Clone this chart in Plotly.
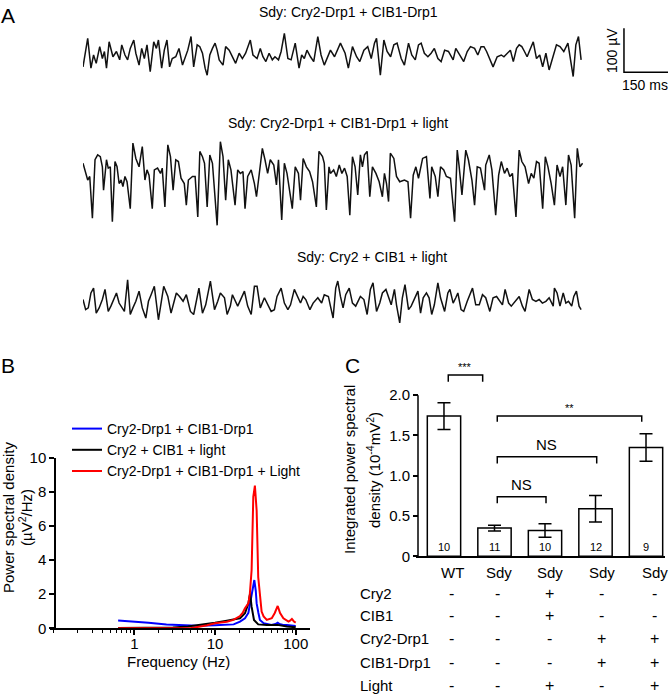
import plotly.graph_objects as go

W, H = 671, 696
FONT = "Arial, Liberation Sans, sans-serif"


def px(x):
    return x / W


def py(y):
    return 1 - y / H


# ---------------- Panel A: field-potential traces (time in ms, amplitude in µV) ----------------
trace1_t = [0, 16, 27, 36, 45, 57, 66, 73, 80, 89, 102, 114, 125, 132, 143, 152, 161, 173, 180, 191,
            200, 209, 218, 229, 241, 250, 257, 268, 277, 286, 295, 304, 316, 327, 339, 348, 357, 368, 377, 389,
            398, 407, 416, 423, 432, 441, 450, 457, 464, 477, 486, 498, 509, 520, 532, 543, 554, 570, 579, 593,
            604, 613, 623, 634, 645, 654, 666, 675, 686, 698, 709, 723, 736, 745, 754, 763, 775, 786, 800, 811,
            822, 832,
            843, 857, 868, 877, 893, 904, 918, 932, 943, 957, 970, 982, 993, 1000, 1013, 1025, 1036, 1048, 1059, 1070,
            1084, 1095, 1109, 1120, 1132, 1143, 1152, 1163, 1175, 1186, 1197, 1209, 1220, 1232, 1245, 1261, 1270, 1284,
            1297, 1309, 1320, 1334, 1345, 1356, 1366, 1375, 1386, 1397, 1411, 1425, 1434, 1445, 1456, 1466, 1477, 1486,
            1495, 1504, 1513, 1522, 1534, 1545, 1556, 1566, 1577, 1588, 1600, 1613, 1625, 1638, 1652, 1661, 1670, 1679,
            1688, 1697]
trace1_uv = [-27, 38, -30, 0, -19, 19, -8, 8, -30, 30, -4, 8, -11, 23, 0, -11, 15, 34, 4, -23,
             15, -8, 23, -38, 30, 15, 34, -30, 11, 34, -27, -8, -4, 15, -23, -4, 11, 42, -27, 23,
             19, 4, -30, -46, 0, 15, 27, 11, -11, -23, 19, 11, -4, -19, 4, -8, 4, 34, 0, -8,
             15, -4, -15, 4, -11, -4, -11, 8, 49, -8, -11, 27, -30, 0, -8, 11, -4, -15, 42, 0,
             -23, -8,
             11, -4, 15, 27, 4, -30, 19, -4, -15, 11, 19, -8, 27, 38, -46, 34, 8, -4, 23, 27,
             -8, -23, 27, 0, -11, 23, 27, 4, -4, 4, 15, -8, -15, 11, 8, -11, 15, 0, -15, 8,
             19, 15, 0, 19, 19, 8, -8, -27, -4, 0, -4, 4, 11, -15, 15, 23, 19, 8, -4, 11,
             30, -8, 0, -27, 4, -34, -4, 23, 19, 8, 27, -8, -49, 23, 42, -11]

trace2_t = [0, 7, 16, 23, 32, 41, 50, 59, 66, 70, 80, 86, 93, 100, 109, 116, 123, 130, 136, 143,
            150, 161, 170, 180, 191, 202, 211, 218, 225, 236, 243, 254, 264, 270, 279, 289, 298, 307, 316, 325,
            334, 345, 352, 359, 373, 382, 391, 398, 407, 414, 423, 432, 441, 457, 468, 477, 486, 495, 504, 518,
            527, 536, 545, 552, 561, 573, 584, 591, 600, 611, 620, 629, 638, 650, 659, 666, 677, 686, 695, 713,
            723, 734, 741, 750, 761, 772, 782, 795, 804, 816, 822, 829, 838,
            843, 854, 863, 873, 882, 891, 900, 909, 918, 927, 936, 945, 952, 959, 968, 977, 986, 998, 1009, 1020,
            1027, 1034, 1041, 1047, 1059, 1068, 1079, 1095, 1107, 1116, 1125, 1134, 1143, 1157, 1170, 1182, 1188, 1200,
            1209, 1218, 1229, 1238, 1252, 1266, 1275, 1281, 1291, 1304, 1313, 1325, 1334, 1343, 1354, 1368, 1372, 1384,
            1393, 1406, 1416, 1425, 1436, 1445, 1454, 1463, 1475, 1486, 1495, 1506, 1518, 1527, 1536, 1545, 1554, 1566,
            1575, 1584, 1595, 1606, 1615, 1625, 1634, 1645, 1654, 1663, 1675, 1684, 1693, 1702]
trace2_uv = [38, 19, 0, 8, -87, 46, 57, 53, 30, -23, 46, 27, 30, -95, 42, 30, -8, 0, -15, 8,
             -4, -65, 84, 49, 30, 76, 0, 23, 11, -65, 23, 27, 15, 27, -61, 80, 53, -23, 46, 42,
             4, -8, -57, 0, 8, 8, -84, 65, 53, 38, -61, 57, 38, -103, 87, 53, -46, 46, 23, -57,
             23, 15, 19, -65, 8, 23, -8, -38, 11, 72, 46, 15, 46, 34, -11, 46, -91, 38, 15, -65,
             30, 15, -46, 49, 30, 19, -4, -61, 65, 53, 38, -68, 30,
             15, 23, 8, 34, 15, 27, 8, -80, 53, 30, -34, 57, 30, 57, 65, -38, 30, 15, -4, -38,
             15, -8, -49, 61, 49, 8, -4, 0, -4, -87, 11, 30, 4, 49, 53, -42, 30, 8, -38, 30,
             23, 8, 4, -95, 68, 34, -34, 68, 46, 0, -57, 30, 27, -23, 34, 57, 23, -80, 11, 42,
             15, 27, 8, 15, -84, 68, 42, 30, -8, 15, 4, 42, 38, -65, 53, 30, -8, -57, 34, 8,
             30, -57, 57, 34, -87, 72, 30, 38]

trace3_t = [0, 9, 18, 27, 36, 45, 55, 66, 75, 86, 95, 105, 114, 123, 132, 141, 152, 161, 170, 180,
            191, 202, 214, 223, 232, 243, 257, 266, 275, 289, 300, 309, 318, 329, 341, 352, 366, 377, 389, 395,
            407, 418, 434, 448, 459, 468, 482, 491, 502, 509, 527, 541, 550, 561, 573, 584, 593, 604, 618, 632,
            641, 652, 661, 675, 686, 698, 707, 720, 732, 741, 750, 759, 773, 784, 800, 813, 822, 836,
            843, 852, 861, 868, 877, 886, 895, 907, 918, 929, 945, 957, 968, 979, 988, 1000, 1011, 1020, 1032, 1041,
            1050, 1061, 1068, 1079, 1088, 1097, 1109, 1118, 1132, 1141, 1150, 1159, 1170, 1179, 1188, 1197, 1209, 1218,
            1232, 1243, 1250, 1261, 1270, 1277, 1288, 1297, 1309, 1327, 1338, 1350, 1361, 1372, 1386, 1397, 1409, 1420,
            1429, 1438, 1450, 1459, 1472, 1486, 1497, 1506, 1520, 1531, 1543, 1554, 1565, 1577, 1588, 1602, 1606, 1615,
            1625, 1636, 1645, 1654, 1665, 1672, 1681, 1690, 1697]
trace3_uv = [4, -19, -15, 19, 30, -27, -15, 4, 27, -23, -11, 4, 19, -4, -15, -23, 49, -30, -15, 0,
             23, -15, -38, 0, 15, 34, -42, 0, 34, 11, -27, -4, 19, 11, 0, 15, -23, -30, 15, 30,
             -27, -8, 46, -19, 0, 19, 8, -30, -11, 15, -11, 8, 23, -11, -30, 34, 34, -15, 8, -11,
             -23, -19, 11, 30, -4, -19, -8, 27, 11, -4, 11, 4, -19, -4, 8, -4, 15, 11,
             -11, -38, 30, 46, 11, -15, 15, 30, -4, -11, 11, 4, -30, 27, 42, -23, -4, 19, 27, 8,
             -8, 27, -8, -49, 8, 38, -19, -11, 11, 23, -27, 8, 19, 8, -30, -8, 42, 8, -23, 19,
             27, -4, 8, 19, -19, -23, 0, 30, -8, -8, 15, 8, -23, 8, 11, 0, -8, 27, -4, -11,
             0, 11, -11, -23, 27, 4, 0, 4, -4, 0, 8, -11, 30, 19, -11, 19, -4, 0, -11, 11,
             23, -11, -19]

trace_titles = ["Sdy: Cry2-Drp1 + CIB1-Drp1",
                "Sdy: Cry2-Drp1 + CIB1-Drp1 + light",
                "Sdy: Cry2 + CIB1 + light"]

scale_ms = 150
scale_uv = 100

# ---------------- Panel B: power spectral density ----------------
blue_f = [0.63, 0.8, 1.0, 1.5, 2.5, 4.2, 6, 10, 14, 17, 20.4, 23.5, 25.9, 27.8, 29.5, 30.7, 32, 32.8,
          34.5, 36, 40, 43.8, 50, 56, 59.8, 63, 70, 77.6, 90, 100]
blue_p = [0.45, 0.42, 0.39, 0.32, 0.23, 0.16, 0.15, 0.18, 0.2, 0.23, 0.39, 0.59, 0.9, 1.66, 2.5, 2.83, 2.2, 1.46,
          0.9, 0.49, 0.3, 0.25, 0.2, 0.25, 0.33, 0.25, 0.2, 0.2, 0.15, 0.14]

black_f = [0.63, 1, 2, 3, 4.6, 6.8, 10, 14, 20.4, 23.5, 25.9, 27.2, 28.4, 30.4, 34.3, 43.8, 59.8, 77.6, 100]
black_p = [0.02, 0.02, 0.03, 0.05, 0.1, 0.2, 0.33, 0.45, 0.59, 0.88, 1.46, 2.05, 1.27, 0.49, 0.23, 0.2, 0.2,
           0.1, 0.06]

red_f = [0.63, 1, 2, 3, 4, 5, 5.6, 6.8, 8, 10, 12, 14, 16.9, 20.4, 22, 23.5, 25.9, 27, 28.4, 29.8, 31.2,
         32.8, 34.3, 36, 37.8, 40, 43.8, 50.5, 55, 59.8, 64, 70.3, 81.4, 85, 89.6, 95, 100]
red_p = [0, 0, 0, 0, 0, 0.02, 0.05, 0.1, 0.18, 0.29, 0.33, 0.39, 0.49, 0.72, 0.9, 1.17, 1.46, 2.0, 3.4, 7.7,
         8.36, 6.9, 3.0, 1.8, 0.98, 0.7, 0.49, 0.59, 0.9, 1.31, 0.9, 0.59, 0.39, 0.45, 0.55, 0.4, 0.33]

psd_names = ["Cry2-Drp1 + CIB1-Drp1", "Cry2 + CIB1 + light", "Cry2-Drp1 + CIB1-Drp1 + Light"]

# ---------------- Panel C: integrated power ----------------
genotype = ["WT", "Sdy", "Sdy", "Sdy", "Sdy"]
power_mean = [1.74, 0.35, 0.32, 0.59, 1.35]
power_sem = [0.165, 0.035, 0.085, 0.165, 0.17]
n_flies = [10, 11, 10, 12, 9]
row_labels = ["Cry2", "CIB1", "Cry2-Drp1", "CIB1-Drp1", "Light"]
row_cry2 = ["-", "-", "+", "-", "-"]
row_cib1 = ["-", "-", "+", "-", "-"]
row_cry2drp1 = ["-", "-", "-", "+", "+"]
row_cib1drp1 = ["-", "-", "-", "+", "+"]
row_light = ["-", "-", "+", "-", "+"]
comparisons = [(0, 1, "***"), (1, 4, "**"), (1, 3, "NS"), (1, 2, "NS")]

fig = go.Figure()

# ---- A traces ----
for k, (t, v) in enumerate([(trace1_t, trace1_uv), (trace2_t, trace2_uv), (trace3_t, trace3_uv)]):
    n = min(len(t), len(v))
    sfx = "" if k == 0 else str(k + 1)
    fig.add_trace(go.Scatter(x=t[:n], y=v[:n], mode="lines", line=dict(color="#111111", width=1.5),
                             xaxis="x" + sfx, yaxis="y" + sfx, showlegend=False, hoverinfo="skip"))

# scale bar (on trace 1 axes)
sb_t0, sb_v0 = 1843, -39
fig.add_trace(go.Scatter(x=[sb_t0, sb_t0, sb_t0 + scale_ms], y=[sb_v0 + scale_uv, sb_v0, sb_v0],
                         mode="lines", line=dict(color="black", width=1.5), xaxis="x", yaxis="y",
                         showlegend=False, hoverinfo="skip"))

# ---- B lines ----
for f, p, name, col in [(blue_f, blue_p, psd_names[0], "#0000ff"),
                        (black_f, black_p, psd_names[1], "#000000"),
                        (red_f, red_p, psd_names[2], "#ff0000")]:
    fig.add_trace(go.Scatter(x=f, y=p, mode="lines", name=name, line=dict(color=col, width=2),
                             xaxis="x4", yaxis="y4"))

# ---- C bars ----
xs = list(range(len(power_mean)))
fig.add_trace(go.Bar(x=xs, y=power_mean, width=0.66, xaxis="x5", yaxis="y5", showlegend=False,
                     marker=dict(color="white", line=dict(color="black", width=1.5)),
                     error_y=dict(type="data", array=power_sem, visible=True, color="black",
                                  thickness=1.5, width=6.5)))

# trace axes
ms_per_px = 1700 / 499
x_end = (W - 83) * ms_per_px
uv_px = 0.44
hidden = dict(showgrid=False, zeroline=False, showticklabels=False, showline=False, ticks="",
              automargin=False)
layout_axes = {}
for k, (ytop, ycen, ybot) in enumerate([(25, 55, 85), (130, 180, 270), (268, 301.3, 338)]):
    sfx = "" if k == 0 else str(k + 1)
    layout_axes["xaxis" + sfx] = dict(domain=[px(83), 1], range=[0, x_end],
                                      anchor="y" + sfx, **hidden)
    layout_axes["yaxis" + sfx] = dict(domain=[py(ybot), py(ytop)],
                                      range=[-(ybot - ycen) / uv_px, (ycen - ytop) / uv_px],
                                      anchor="x" + sfx, **hidden)

tickfont = dict(family=FONT, size=15, color="black")

layout_axes["xaxis4"] = dict(type="log", domain=[px(50), px(310)], range=[-1.045, 2.177], anchor="y4",
                             automargin=False, ticklabelstandoff=-4,
                             showgrid=False, zeroline=False, showline=True, linecolor="black", linewidth=1.5,
                             ticks="outside", ticklen=5, tickwidth=1.5, tickcolor="black",
                             tickvals=[1, 10, 100], ticktext=["1", "10", "100"], tickfont=tickfont,
                             minor=dict(ticks="outside", ticklen=3, tickwidth=1, tickcolor="black",
                                        tickvals=[0.1, 0.2, 0.3, 0.4, 0.5, 0.6, 0.7, 0.8, 0.9,
                                                  2, 3, 4, 5, 6, 7, 8, 9,
                                                  20, 30, 40, 50, 60, 70, 80, 90]))
layout_axes["yaxis4"] = dict(domain=[py(628.3), py(457.7)], range=[0, 10], anchor="free", position=px(55),
                             automargin=False,
                             showgrid=False, zeroline=False, showline=True, linecolor="black", linewidth=1.5,
                             ticks="outside", ticklen=5, tickwidth=1.5, tickcolor="black",
                             tickvals=[0, 2, 4, 6, 8, 10], tickfont=tickfont)

layout_axes["xaxis5"] = dict(domain=[px(416), px(665)], range=[-0.554, 4.376], anchor="y5",
                             automargin=False,
                             showgrid=False, zeroline=False, showline=True, linecolor="black", linewidth=1.5,
                             showticklabels=False, ticks="")
layout_axes["yaxis5"] = dict(domain=[py(556.3), py(362.9)], range=[0, 2.4], anchor="free", position=px(418),
                             automargin=False,
                             showgrid=False, zeroline=False, showline=False,
                             ticks="outside", ticklen=5, tickwidth=1.5, tickcolor="black",
                             tickvals=[0, 0.5, 1.0, 1.5, 2.0], ticktext=["0", "0.5", "1.0", "1.5", "2.0"],
                             tickfont=tickfont)

shapes = []
# y axis line of panel C, stopping at 2.0
shapes.append(dict(type="line", xref="paper", yref="y5", x0=px(418), x1=px(418), y0=0, y1=2.0,
                   line=dict(color="black", width=1.5)))
# significance brackets: (x0, x1, y, leg) in data units
bracket_geom = {0: (0.085, 0.766, 2.25, 0.083), 1: (1.055, 3.915, 1.74, 0.07),
                2: (1.055, 3.024, 1.236, 0.083), 3: (1.055, 2.02, 0.74, 0.083)}
annotations = []


def note(x, y, text, size=15, xanchor="center", yanchor="middle", angle=0, xref="paper", yref="paper",
         yshift=0):
    annotations.append(dict(x=x, y=y, xref=xref, yref=yref, text=text, showarrow=False,
                            xanchor=xanchor, yanchor=yanchor, textangle=angle, yshift=yshift,
                            font=dict(family=FONT, size=size, color="black")))


for idx, (a, b, lab) in enumerate(comparisons):
    x0, x1, yb, leg = bracket_geom[idx]
    shapes.append(dict(type="path", xref="x5", yref="y5",
                       path=f"M {x0},{yb - leg} L {x0},{yb} L {x1},{yb} L {x1},{yb - leg}",
                       line=dict(color="black", width=1.5)))
    small = lab.startswith("*")
    note((x0 + x1) / 2, yb, lab, size=11 if small else 15, yanchor="bottom", xref="x5", yref="y5",
         yshift=0 if small else 2)

# n in bars
for i, nn in enumerate(n_flies):
    note(i, 0, str(nn), size=11, yanchor="bottom", xref="x5", yref="y5", yshift=1)

# genotype labels and table
col_x = [452, 499, 550, 602, 655]
for i, g in enumerate(genotype):
    note(px(col_x[i]), py(572), g)
rows = [row_cry2, row_cib1, row_cry2drp1, row_cib1drp1, row_light]
row_y = [593, 615, 638, 662, 685]
for r, (lab, vals) in enumerate(zip(row_labels, rows)):
    note(px(358), py(row_y[r]), lab, xanchor="left")
    for i, s in enumerate(vals):
        note(px(col_x[i] - 1), py(row_y[r]), s, size=16)

# Panel A titles & scale bar labels
for (cx, cy), txt in zip([(348, 12), (338, 123), (372, 257)], trace_titles):
    note(px(cx), py(cy), txt, size=14)
note(px(612), py(51), f"{scale_uv} µV", size=14, angle=-90)
note(px(645), py(85), f"{scale_ms} ms", size=14)

# Panel letters
for (lx, ly), L in zip([(8, 16), (8, 365), (352, 365)], ["A", "B", "C"]):
    note(px(lx), py(ly), L, size=21)

# Axis titles B
note(px(8), py(518), "Power spectral density", angle=-90)
note(px(25), py(518), "(µV<sup>2</sup>/Hz)", angle=-90)
note(px(178), py(661), "Frequency (Hz)")
# Axis titles C
note(px(349), py(470), "Integrated power spectral", angle=-90)
note(px(373), py(470), "density (10<sup>-4</sup>mV<sup>2</sup>)", angle=-90)

fig.update_layout(
    width=W, height=H, margin=dict(l=0, r=0, t=0, b=0, pad=0, autoexpand=False),
    paper_bgcolor="white", plot_bgcolor="white",
    font=dict(family=FONT, size=15, color="black"),
    showlegend=True,
    legend=dict(x=px(67), y=py(413), xanchor="left", yanchor="top", bgcolor="rgba(0,0,0,0)",
                font=dict(family=FONT, size=14, color="black"), tracegroupgap=0, itemwidth=30),
    shapes=shapes, annotations=annotations,
    **layout_axes,
)

fig.write_html("out.html", config={"displayModeBar": False, "responsive": False},
               post_script="document.body.style.margin='0';document.body.style.overflow='hidden';")
